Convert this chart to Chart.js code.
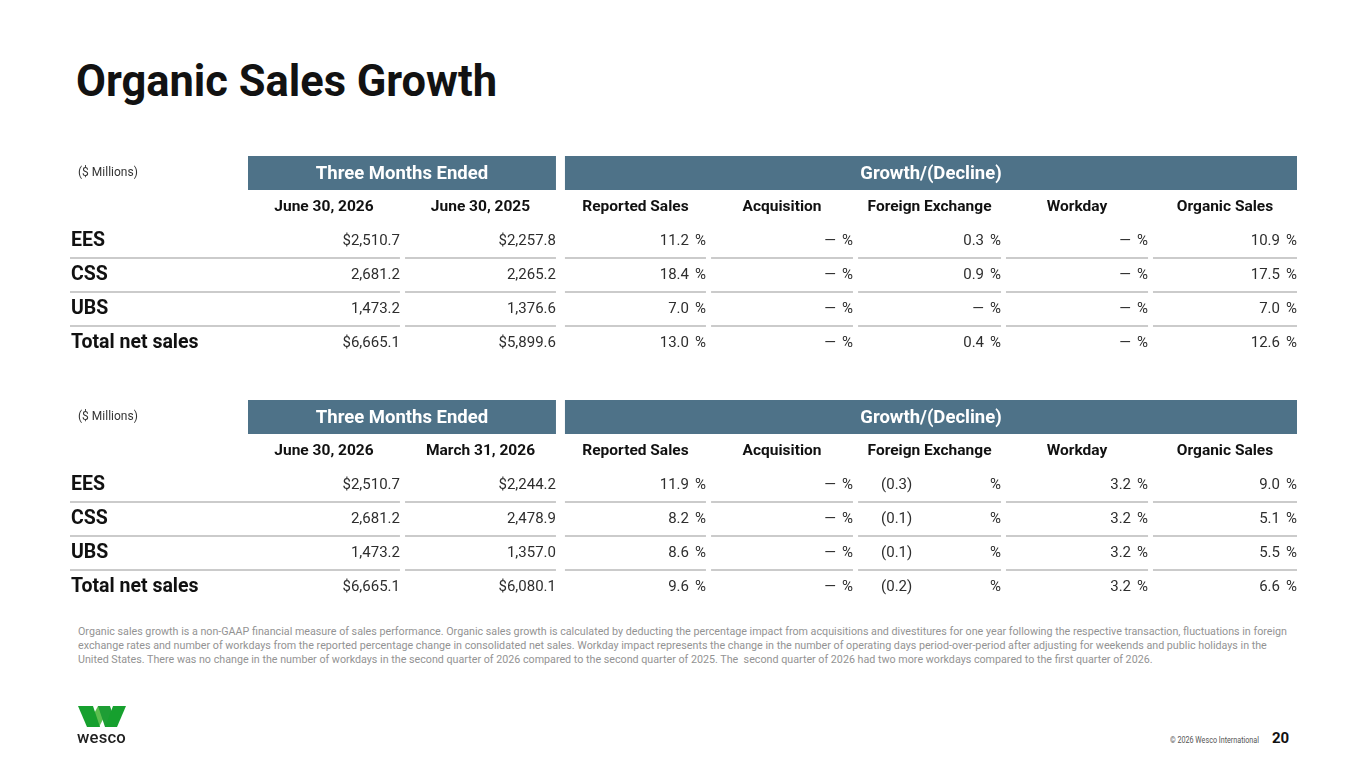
<!DOCTYPE html>
<html><head><meta charset="utf-8">
<script src="https://cdn.jsdelivr.net/npm/chart.js@4.4.1/dist/chart.umd.min.js"></script>
<style>
html,body{margin:0;padding:0}
body{width:1365px;height:768px;overflow:hidden;background:#fff;position:relative;font-family:Roboto,"Noto Sans",sans-serif}
#title{position:absolute;left:76px;top:55px;font-weight:700;font-size:45px;line-height:52px;color:#121212;white-space:nowrap;transform-origin:0 0}
canvas{position:absolute;left:0}
#c1{top:156px}
#c2{top:400px}
#note{position:absolute;left:78px;top:625px;font-size:11px;line-height:14px;color:#939393;white-space:nowrap;transform-origin:0 0}
#logo{position:absolute;left:0;top:0}
#wesco{position:absolute;left:77px;top:727px;font-size:17px;font-weight:500;color:#222;transform-origin:0 0;white-space:nowrap;letter-spacing:0.2px}
#copy{position:absolute;left:1170px;top:734px;font-size:9.5px;color:#555;white-space:nowrap;transform-origin:0 0}
#page{position:absolute;left:1272px;top:729px;font-size:15px;font-weight:700;color:#111}
</style>
</head>
<body>
<div id="title">Organic Sales Growth</div>
<canvas id="c1" width="1365" height="204"></canvas>
<canvas id="c2" width="1365" height="204"></canvas>
<div id="note">
<div class="nl">Organic sales growth is a non-GAAP financial measure of sales performance. Organic sales growth is calculated by deducting the percentage impact from acquisitions and divestitures for one year following the respective transaction, fluctuations in foreign</div>
<div class="nl">exchange rates and number of workdays from the reported percentage change in consolidated net sales. Workday impact represents the change in the number of operating days period-over-period after adjusting for weekends and public holidays in the</div>
<div class="nl">United States. There was no change in the number of workdays in the second quarter of 2026 compared to the second quarter of 2025. The &nbsp;second quarter of 2026 had two more workdays compared to the first quarter of 2026.</div>
</div>
<svg id="logo" width="200" height="768" viewBox="0 0 200 768">
<polygon points="87,727 99,727 110,706 98,706" fill="#5cbf4f"/>
<polygon points="98,706 110,706 117,727 105,727" fill="#1e9e35"/>
<polygon points="78,706 93,706 100,727 87,727" fill="#16a02e"/>
<polygon points="105,727 117,727 126,706 113,706" fill="#16a02e"/>
</svg>
<div id="wesco">wesco</div>
<div id="copy">© 2026 Wesco International</div>
<div id="page">20</div>
<script>
// ---- data ----
const segments = ['EES','CSS','UBS','Total net sales'];
const groupHeaders = ['Three Months Ended','Growth/(Decline)'];
const unitLabel = '($ Millions)';
const q2Columns = ['June 30, 2026','June 30, 2025','Reported Sales','Acquisition','Foreign Exchange','Workday','Organic Sales'];
const seqColumns = ['June 30, 2026','March 31, 2026','Reported Sales','Acquisition','Foreign Exchange','Workday','Organic Sales'];

const q2Current = [2510.7, 2681.2, 1473.2, 6665.1];
const q2Prior = [2257.8, 2265.2, 1376.6, 5899.6];
const q2Reported = [11.2, 18.4, 7.0, 13.0];
const q2Acquisition = [0, 0, 0, 0];
const q2FX = [0.3, 0.9, 0, 0.4];
const q2Workday = [0, 0, 0, 0];
const q2Organic = [10.9, 17.5, 7.0, 12.6];

const seqCurrent = [2510.7, 2681.2, 1473.2, 6665.1];
const seqPrior = [2244.2, 2478.9, 1357.0, 6080.1];
const seqReported = [11.9, 8.2, 8.6, 9.6];
const seqAcquisition = [0, 0, 0, 0];
const seqFX = [-0.3, -0.1, -0.1, -0.2];
const seqWorkday = [3.2, 3.2, 3.2, 3.2];
const seqOrganic = [9.0, 5.1, 5.5, 6.6];

// ---- layout (scale units, x: 0..7 columns) ----
const COL_L = [0, 1.048, 2.115, 3.090, 4.071, 5.058, 6.039];
const COL_R = [1.014, 2.055, 3.056, 4.037, 5.025, 6.006, 7];
const GROUPS = [{from:0,to:1},{from:2,to:6}];
const FONT = 'Roboto, "Noto Sans", sans-serif';
const BAND = '#4e7288';
const LINE = '#cbcbcb';
const LABEL_X = 71;

const fmtMoney = v => v.toLocaleString('en-US',{minimumFractionDigits:1,maximumFractionDigits:1});

const tablePlugin = {
  id: 'table',
  afterDatasetsDraw(chart) {
    const {ctx} = chart;
    const xs = chart.scales.x, ys = chart.scales.y;
    const cfg = chart.options.plugins.table;
    const px = u => xs.getPixelForValue(u);
    const step = ys.getPixelForValue(1) - ys.getPixelForValue(0);
    ctx.save();
    ctx.textBaseline = 'middle';
    // band row
    const bandY = ys.getPixelForValue(0);
    GROUPS.forEach((g, gi) => {
      const l = px(COL_L[g.from]), r = px(COL_R[g.to]);
      ctx.fillStyle = BAND;
      ctx.fillRect(l, bandY - step/2, r - l, step);
      ctx.fillStyle = '#ffffff';
      ctx.font = '700 18.5px ' + FONT;
      ctx.textAlign = 'center';
      ctx.fillText(groupHeaders[gi], (l + r)/2, bandY + 1);
    });
    ctx.fillStyle = '#333';
    ctx.font = '400 12px ' + FONT;
    ctx.textAlign = 'left';
    ctx.fillText(unitLabel, 78, bandY);
    // column headers
    const headY = ys.getPixelForValue(1);
    ctx.fillStyle = '#111';
    ctx.font = '700 15.5px ' + FONT;
    ctx.textAlign = 'center';
    cfg.columns.forEach((c, ci) => {
      ctx.fillText(c, (px(COL_L[ci]) + px(COL_R[ci]))/2, headY);
    });
    // row labels + lines
    segments.forEach((s, ri) => {
      const y = ys.getPixelForValue(s);
      ctx.fillStyle = '#111';
      ctx.font = '700 19.5px ' + FONT;
      ctx.textAlign = 'left';
      ctx.fillText(s, LABEL_X, y);
      if (ri < segments.length - 1) {
        ctx.strokeStyle = LINE;
        ctx.lineWidth = 2;
        for (let ci = 0; ci < COL_L.length; ci++) {
          const l = ci === 0 ? 70 : px(COL_L[ci]);
          ctx.beginPath();
          ctx.moveTo(l, y + step/2);
          ctx.lineTo(px(COL_R[ci]), y + step/2);
          ctx.stroke();
        }
      }
    });
    // cells
    chart.data.datasets.forEach((ds, ci) => {
      const meta = chart.getDatasetMeta(ci);
      meta.data.forEach((pt, ri) => {
        const v = ds.values[ri];
        const x = pt.x, y = pt.y;
        ctx.fillStyle = '#2e2e2e';
        ctx.font = '400 15px ' + FONT;
        if (ds.kind === 'money') {
          const dollar = (ri === 0 || ri === segments.length - 1) ? '$' : '';
          ctx.textAlign = 'right';
          ctx.fillText(dollar + fmtMoney(v), x, y);
        } else {
          ctx.textAlign = 'right';
          ctx.fillText('%', x, y);
          if (v < 0) {
            ctx.textAlign = 'left';
            ctx.fillText('(' + Math.abs(v).toFixed(1) + ')', px(COL_L[ci]) + 23, y);
          } else {
            ctx.fillText(v === 0 ? '—' : v.toFixed(1), x - 17, y);
          }
        }
      });
    });
    ctx.restore();
  }
};

function buildTable(id, columns, seriesList) {
  const kinds = ['money','money','pct','pct','pct','pct','pct'];
  const datasets = seriesList.map((vals, ci) => ({
    label: columns[ci],
    kind: kinds[ci],
    values: vals,
    data: vals.map((v, ri) => ({x: COL_R[ci], y: segments[ri]})),
    pointRadius: 0,
    showLine: false
  }));
  return new Chart(document.getElementById(id), {
    type: 'scatter',
    data: {datasets},
    options: {
      responsive: false,
      animation: false,
      devicePixelRatio: 1,
      layout: {padding: {left: 248, right: 68, top: 0, bottom: 0}},
      scales: {
        x: {type: 'linear', min: 0, max: 7, display: false},
        y: {type: 'category', labels: ['_band','_head'].concat(segments), offset: true, display: false}
      },
      plugins: {legend: {display: false}, tooltip: {enabled: false}, table: {columns}},
      events: []
    },
    plugins: [tablePlugin]
  });
}

buildTable('c1', q2Columns, [q2Current, q2Prior, q2Reported, q2Acquisition, q2FX, q2Workday, q2Organic]);
buildTable('c2', seqColumns, [seqCurrent, seqPrior, seqReported, seqAcquisition, seqFX, seqWorkday, seqOrganic]);

function fitWidth(el, target) {
  el.style.display = 'inline-block';
  const w = el.getBoundingClientRect().width;
  el.style.transform = 'scaleX(' + (target / w) + ')';
}
fitWidth(document.getElementById('title'), 421);
const note = document.getElementById('note');
const first = note.querySelector('.nl');
first.style.display = 'inline-block';
const w1 = first.getBoundingClientRect().width;
first.style.display = 'block';
note.style.transform = 'scaleX(' + (1209 / w1) + ')';
fitWidth(document.getElementById('wesco'), 49);
fitWidth(document.getElementById('copy'), 89);
</script>
</body></html>
